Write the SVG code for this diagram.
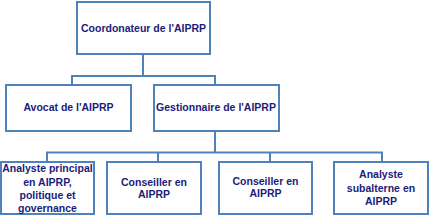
<svg xmlns="http://www.w3.org/2000/svg" width="430" height="217" viewBox="0 0 430 217">
<style>
.box{fill:#ffffff;stroke:#4f81bd;stroke-width:2}
.conn{fill:none;stroke:#4f81bd;stroke-width:2}
text{font-family:"Liberation Sans",Arial,sans-serif;font-weight:bold;font-size:10.5px;fill:#1c1c7a;text-anchor:middle}
</style>
<rect width="430" height="217" fill="#ffffff"/>
<g id="connectors">
<path class="conn" d="M143,54 V76 M72,85 V76 H215 V85"/>
<path class="conn" d="M215,131 V152.5 M47,162 V152.5 H382 V162 M158,152.5 V162 M270,152.5 V162"/>
</g>
<g id="coordonateur">
<rect class="box" x="77" y="2" width="133" height="52"/>
<text x="143.5" y="31.5">Coordonateur de l'AIPRP</text>
</g>
<g id="avocat">
<rect class="box" x="6" y="85" width="125" height="46"/>
<text x="68.5" y="111">Avocat de l'AIPRP</text>
</g>
<g id="gestionnaire">
<rect class="box" x="154" y="85" width="125" height="46"/>
<text x="216" y="111">Gestionnaire de l'AIPRP</text>
</g>
<g id="analyste-principal">
<rect class="box" x="1" y="162" width="93" height="52"/>
<text x="47.5" y="172">Analyste principal</text>
<text x="47.5" y="186">en AIPRP,</text>
<text x="47.5" y="199">politique et</text>
<text x="47.5" y="212">governance</text>
</g>
<g id="conseiller-1">
<rect class="box" x="107" y="162" width="94" height="52"/>
<text x="154" y="185.5">Conseiller en</text>
<text x="154" y="198">AIPRP</text>
</g>
<g id="conseiller-2">
<rect class="box" x="219" y="162" width="93" height="52"/>
<text x="265.5" y="184.5">Conseiller en</text>
<text x="265.5" y="197">AIPRP</text>
</g>
<g id="analyste-subalterne">
<rect class="box" x="334" y="162" width="94" height="52"/>
<text x="381" y="178">Analyste</text>
<text x="381" y="192">subalterne en</text>
<text x="381" y="205">AIPRP</text>
</g>
</svg>
